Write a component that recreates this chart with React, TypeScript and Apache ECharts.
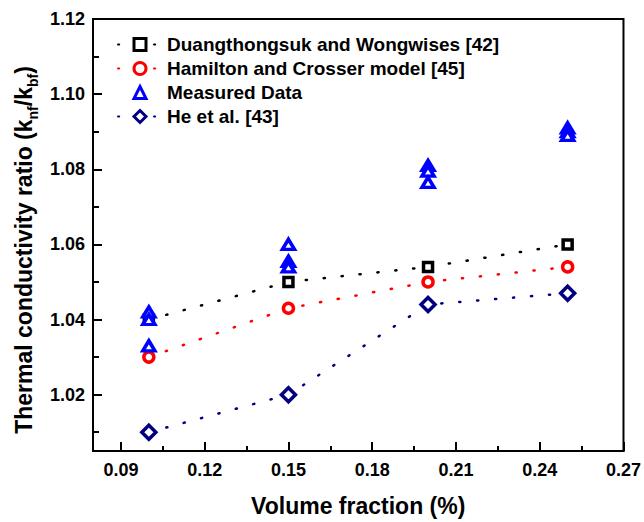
import React, { useEffect, useRef } from "react";
import * as echarts from "echarts";

const volumeFraction = [0.1, 0.15, 0.2, 0.25];
const duangthongsuk = [1.04, 1.05, 1.054, 1.06];
const hamilton = [1.03, 1.043, 1.05, 1.054];
const heEtAl = [1.01, 1.02, 1.044, 1.047];
const measuredX = [0.1, 0.1, 0.1, 0.15, 0.15, 0.15, 0.2, 0.2, 0.2, 0.25, 0.25, 0.25];
const measuredY = [1.042, 1.04, 1.033, 1.06, 1.0555, 1.054, 1.081, 1.0795, 1.0765, 1.091, 1.09, 1.089];
const xMajorTicks = [0.09, 0.12, 0.15, 0.18, 0.21, 0.24, 0.27];
const xMinorTicks = [0.105, 0.135, 0.165, 0.195, 0.225, 0.255];
const yMajorTicks = [1.02, 1.04, 1.06, 1.08, 1.1, 1.12];
const yMinorTicks = [1.01, 1.03, 1.05, 1.07, 1.09, 1.11];
const seriesNames = [
  "Duangthongsuk and Wongwises [42]",
  "Hamilton and Crosser model [45]",
  "Measured Data",
  "He et al. [43]",
];

const FONT = "'Liberation Sans', Arial, sans-serif";
const X_MIN = 0.08;
const X_MAX = 0.27;
const Y_MIN = 1.005;
const Y_MAX = 1.12;

const pairs = (xs: number[], ys: number[]) => xs.map((x, i) => [x, ys[i]]);

const dotted = (color: string) => ({
  color,
  width: 2.5,
  type: [1.2, 16.8] as any,
  cap: "round" as const,
});

export default function App() {
  const ref = useRef<HTMLDivElement>(null);
  useEffect(() => {
    if (!ref.current) return;
    const chart = echarts.init(ref.current, undefined, { renderer: "svg" });
    const tickLabel = {
      fontSize: 18,
      fontWeight: "bold" as const,
      fontFamily: FONT,
      color: "#000",
    };
    chart.setOption({
      animation: false,
      backgroundColor: "#fff",
      grid: {
        left: 93,
        right: 20,
        top: 19,
        bottom: 70,
        show: true,
        borderColor: "#000",
        borderWidth: 2,
        backgroundColor: "transparent",
      },
      legend: {
        orient: "vertical",
        left: 117,
        top: 35,
        padding: 0,
        itemGap: 5,
        itemWidth: 44,
        itemHeight: 15,
        itemStyle: { borderWidth: 3 },
        textStyle: { fontSize: 19, fontWeight: "bold", fontFamily: FONT, color: "#000" },
        data: seriesNames,
      },
      xAxis: [
        {
          type: "value",
          min: X_MIN,
          max: X_MAX,
          position: "bottom",
          name: "Volume fraction (%)",
          nameLocation: "middle",
          nameGap: 43,
          nameTextStyle: { fontSize: 23, fontWeight: "bold", fontFamily: FONT, color: "#000" },
          axisLine: { show: true, onZero: false, lineStyle: { color: "#000", width: 2 } },
          axisTick: {
            show: true,
            inside: true,
            length: 9,
            customValues: xMajorTicks,
            lineStyle: { color: "#000", width: 2 },
          },
          axisLabel: {
            ...tickLabel,
            margin: 10,
            customValues: xMajorTicks,
            formatter: (v: number) => v.toFixed(2),
          },
          splitLine: { show: false },
        },
        {
          type: "value",
          min: X_MIN,
          max: X_MAX,
          position: "bottom",
          axisLine: { show: false, onZero: false },
          axisTick: {
            show: true,
            inside: true,
            length: 5,
            customValues: xMinorTicks,
            lineStyle: { color: "#000", width: 2 },
          },
          axisLabel: { show: false },
          splitLine: { show: false },
        },
      ],
      yAxis: [
        {
          type: "value",
          min: Y_MIN,
          max: Y_MAX,
          position: "left",
          axisLine: { show: true, onZero: false, lineStyle: { color: "#000", width: 2 } },
          axisTick: {
            show: true,
            inside: true,
            length: 9,
            customValues: yMajorTicks,
            lineStyle: { color: "#000", width: 2 },
          },
          axisLabel: {
            ...tickLabel,
            margin: 8,
            customValues: yMajorTicks,
            formatter: (v: number) => v.toFixed(2),
          },
          splitLine: { show: false },
        },
        {
          type: "value",
          min: Y_MIN,
          max: Y_MAX,
          position: "left",
          axisLine: { show: false, onZero: false },
          axisTick: {
            show: true,
            inside: true,
            length: 6,
            customValues: yMinorTicks,
            lineStyle: { color: "#000", width: 2 },
          },
          axisLabel: { show: false },
          splitLine: { show: false },
        },
      ],
      graphic: [
        {
          type: "text",
          x: 24,
          y: 250,
          rotation: Math.PI / 2,
          style: {
            text: "{m|Thermal conductivity ratio (k}{s|nf}{m|/k}{s|bf}{m|)}",
            align: "center",
            verticalAlign: "middle",
            fill: "#000",
            rich: {
              m: { fontSize: 23, fontWeight: "bold", fontFamily: FONT, fill: "#000", lineHeight: 32 },
              s: {
                fontSize: 14,
                fontWeight: "bold",
                fontFamily: FONT,
                fill: "#000",
                lineHeight: 32,
                verticalAlign: "bottom",
              },
            },
          },
        },
      ],
      series: [
        {
          name: seriesNames[0],
          type: "line",
          data: pairs(volumeFraction, duangthongsuk),
          symbol: "rect",
          symbolSize: 9,
          itemStyle: { color: "#fff", borderColor: "#000", borderWidth: 3.5, opacity: 1 },
          lineStyle: dotted("#000"),
        },
        {
          name: seriesNames[1],
          type: "line",
          data: pairs(volumeFraction, hamilton),
          symbol: "circle",
          symbolSize: 10,
          itemStyle: { color: "#fff", borderColor: "#ff0000", borderWidth: 3.5, opacity: 1 },
          lineStyle: dotted("#ff0000"),
        },
        {
          name: seriesNames[2],
          type: "line",
          data: pairs(measuredX, measuredY),
          symbol: "triangle",
          symbolSize: [12, 10],
          itemStyle: { color: "#fff", borderColor: "#0000ff", borderWidth: 3.5, opacity: 1 },
          lineStyle: { width: 0, opacity: 0 },
        },
        {
          name: seriesNames[3],
          type: "line",
          data: pairs(volumeFraction, heEtAl),
          symbol: "diamond",
          symbolSize: 14,
          itemStyle: { color: "#fff", borderColor: "#000080", borderWidth: 3.5, opacity: 1 },
          lineStyle: dotted("#000080"),
        },
      ],
    });
    return () => chart.dispose();
  }, []);
  return (
    <div
      ref={ref}
      style={{ position: "fixed", left: 0, top: 0, width: 644, height: 522, background: "#fff" }}
    />
  );
}
